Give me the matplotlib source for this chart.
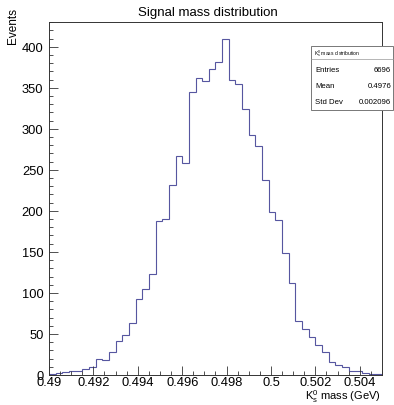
import numpy as np
import matplotlib
matplotlib.use('Agg')
import matplotlib.pyplot as plt
from matplotlib.ticker import MultipleLocator, FuncFormatter
from matplotlib.patches import Rectangle

plt.rcParams['font.family'] = ['Liberation Sans', 'DejaVu Sans']
plt.rcParams['mathtext.fontset'] = 'custom'
plt.rcParams['mathtext.rm'] = 'Liberation Sans'
plt.rcParams['mathtext.it'] = 'Liberation Sans:italic'

# histogram: 50 bins from 0.49 to 0.505 GeV
x_lo = 0.49
x_hi = 0.505
n_bins = 50
counts = [1, 2, 4, 5, 5, 7, 10, 20, 18, 28,
          42, 49, 63, 92, 105, 123, 188, 190, 231, 267,
          258, 345, 362, 358, 373, 381, 410, 360, 355, 324,
          292, 279, 238, 199, 189, 149, 112, 66, 56, 46,
          36, 28, 16, 12, 10, 5, 5, 3, 1, 1]

title = 'Signal mass distribution'
stat_names = ['Entries', 'Mean', 'Std Dev']
stat_values = ['6696', '0.4976', '0.002096']

W, H = 394, 406
fig = plt.figure(figsize=(W / 100, H / 100), dpi=100)
L, R, T, B = 49, 382, 22.7, 376
ax = fig.add_axes([L / W, 1 - B / H, (R - L) / W, (B - T) / H])

edges = np.linspace(x_lo, x_hi, n_bins + 1)
ax.stairs(counts, edges, color='#5656a0', lw=0.8, baseline=0)

ax.set_xlim(x_lo, x_hi)
ax.set_ylim(0, 1.05 * max(counts))

ax.xaxis.set_major_locator(MultipleLocator(0.002))
ax.xaxis.set_minor_locator(MultipleLocator(0.0005))
ax.yaxis.set_major_locator(MultipleLocator(50))
ax.yaxis.set_minor_locator(MultipleLocator(10))
ax.xaxis.set_major_formatter(FuncFormatter(lambda v, p: '%g' % round(v, 4)))
ax.tick_params(which='both', direction='in', top=False, right=False,
               labelsize=9.3, width=0.6, color='#333333')
ax.tick_params(which='major', length=6.5)
ax.tick_params(which='minor', length=3.2)
ax.tick_params(axis='x', pad=1)
ax.tick_params(axis='y', pad=4)
for s in ax.spines.values():
    s.set_linewidth(0.7)
    s.set_color('#333333')

# title sitting on the frame
fig.text(208 / W, 1 - 13 / H, title, ha='center', va='center', fontsize=9.5,
         bbox=dict(facecolor='white', edgecolor='none', pad=1.5))

fig.text(13 / W, 1 - 8 / H, 'Events', rotation=90, ha='center', va='top', fontsize=8.5)
fig.text(381 / W, 1 - 405.5 / H, r'K$^{\rm 0}_{\rm s}$ mass (GeV)', ha='right', va='bottom',
         fontsize=8)

# stats box
bx0, bx1, by0, by1 = 311, 393, 47, 111
fig.patches.append(Rectangle((bx0 / W, 1 - by1 / H), (bx1 - bx0) / W, (by1 - by0) / H,
                             transform=fig.transFigure, facecolor='white',
                             edgecolor='#777777', lw=0.7, zorder=5))
fig.add_artist(plt.Line2D([bx0 / W, bx1 / W], [1 - 59.5 / H, 1 - 59.5 / H],
                          transform=fig.transFigure, color='#999999', lw=0.5, zorder=6))
fig.text(314 / W, 1 - 53.5 / H, r'K$^{\rm 0}_{\rm s}$ mass distribution', fontsize=3.6,
         ha='left', va='center', zorder=7)
for i, (n, v) in enumerate(zip(stat_names, stat_values)):
    yy = 1 - (71 + 15.5 * i) / H
    fig.text(315 / W, yy, n, fontsize=5.6, ha='left', va='center', zorder=7)
    fig.text(391 / W, yy, v, fontsize=5.6, ha='right', va='center', zorder=7)

fig.savefig('out.png', dpi=100)
